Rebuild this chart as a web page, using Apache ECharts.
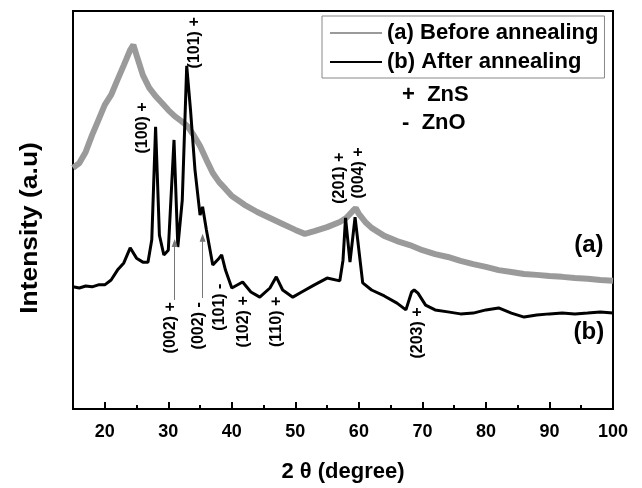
<!DOCTYPE html>
<html>
<head>
<meta charset="utf-8">
<script src="https://cdn.jsdelivr.net/npm/echarts@6/dist/echarts.min.js"></script>
<style>
  html, body { margin: 0; padding: 0; background: #fff; }
  #xrd { width: 642px; height: 488px; }
</style>
</head>
<body>
<div id="xrd"></div>
<script>
// XRD 图谱：退火前(a) / 退火后(b)
const seriesNames = ['(a) Before annealing', '(b) After annealing'];

// (a) 退火前，灰色
const beforeX = [15, 16, 17, 18, 19, 20, 21, 22, 23, 24, 24.5, 25, 26, 27, 28, 29, 30, 31, 32, 33, 34, 35, 36, 37, 38, 39, 40, 42, 44, 46, 48, 50, 51.5, 53, 55, 57, 58, 59, 59.5, 60, 61, 62, 64, 66, 68, 70, 72, 74, 76, 78, 80, 82, 84, 86, 88, 90, 92, 94, 96, 98, 100];
const beforeY = [60.6, 61.8, 64.6, 68.8, 72.6, 76.4, 78.9, 82.7, 86.4, 90.2, 91.5, 88.9, 83.9, 80.7, 78.6, 76.9, 75.1, 73.6, 72.4, 71.1, 68.8, 66.1, 62.6, 59.3, 57.0, 55.3, 53.5, 51.3, 49.5, 48.0, 46.5, 45.0, 44.0, 44.7, 45.7, 47.0, 48.0, 49.7, 50.5, 49.0, 47.0, 45.5, 43.5, 42.2, 41.2, 39.9, 38.9, 38.2, 37.2, 36.4, 35.7, 34.9, 34.4, 33.9, 33.7, 33.4, 33.2, 32.9, 32.7, 32.4, 32.2];

// (b) 退火后，黑色
const afterX = [15, 16, 17, 18, 19, 20, 21, 22, 23, 24, 25, 26, 26.8, 27.4, 28, 28.6, 29.3, 30, 30.9, 31.5, 32.2, 32.9, 33.5, 34.2, 35, 35.4, 36, 37, 38, 38.4, 39, 40, 41.7, 43, 44.4, 46, 47, 48, 49.6, 51, 53, 55, 57, 57.5, 57.9, 58.6, 59.4, 60, 60.6, 62, 64, 66, 67.4, 68.3, 68.7, 69.3, 70.5, 72, 74, 76, 78, 80, 82, 84, 86, 88, 90, 92, 94, 96, 98, 100];
const afterY = [30.7, 30.4, 30.9, 30.7, 31.2, 31.2, 32.4, 34.9, 36.7, 40.5, 37.9, 36.9, 36.9, 42.5, 70.9, 43.7, 38.7, 39.9, 67.6, 40.7, 52.5, 86.2, 75.1, 60.1, 48.7, 50.8, 45.0, 36.2, 37.9, 38.7, 34.9, 30.4, 31.9, 29.4, 28.1, 30.4, 33.2, 29.9, 28.1, 29.4, 31.2, 32.9, 32.2, 37.4, 48.0, 36.9, 48.2, 39.9, 31.7, 29.9, 28.4, 26.6, 24.9, 29.4, 29.9, 29.1, 26.1, 24.9, 24.4, 23.9, 24.1, 24.9, 25.4, 24.1, 23.1, 23.6, 23.9, 24.1, 23.9, 24.1, 24.4, 24.1];

// 刻度
const majorTicks = [20, 30, 40, 50, 60, 70, 80, 90, 100];
const minorTicks = [25, 35, 45, 55, 65, 75, 85, 95];

// 峰标注 [文字, 2θ, 强度]，竖排
const peakLabels = [
  ['(100) +', 25.9, 70.6],
  ['(101) +', 34.2, 92.0],
  ['(201) +', 57.0, 58.0],
  ['(004) +', 59.9, 59.3],
  ['(002) +', 30.3, 20.4],
  ['(002) -', 34.7, 20.9],
  ['(101) -', 38.1, 25.6],
  ['(102) +', 41.9, 21.9],
  ['(110) +', 47.1, 21.9],
  ['(203) +', 69.2, 19.1]
];
// 箭头 [2θ, 起点, 终点]
const arrows = [[31.0, 27.4, 41.7], [35.4, 27.9, 43.0]];
// 曲线标记 & 相标记
const curveTags = [['(a)', 96.2, 41.2], ['(b)', 96.2, 19.3]];
const phaseTags = [['+  ZnS', 66.8, 78.9], ['-  ZnO', 66.8, 71.9]];

const FONT = '"Liberation Sans", Arial, sans-serif';

function pairs (xs, ys) {
  return xs.map((x, i) => [x, ys[i]]);
}

const myChart = echarts.init(document.getElementById('xrd'));

const option = {
  backgroundColor: '#fff',
  animation: false,
  grid: {
    left: 73,
    right: 29,
    top: 11,
    bottom: 79,
    show: true,
    borderColor: '#000',
    borderWidth: 2
  },
  legend: {
    orient: 'vertical',
    left: 322,
    top: 16,
    icon: 'rect',
    itemWidth: 52,
    itemHeight: 2,
    itemGap: 7,
    padding: [6, 6, 5, 8],
    borderColor: '#888',
    borderWidth: 1,
    textStyle: { fontFamily: FONT, fontWeight: 'bold', fontSize: 22, color: '#000' },
    data: seriesNames
  },
  xAxis: [
    {
      type: 'value',
      min: 15,
      max: 100,
      name: '2 θ (degree)',
      nameLocation: 'middle',
      nameGap: 52,
      nameTextStyle: { fontFamily: FONT, fontWeight: 'bold', fontSize: 22, color: '#000' },
      axisLine: { show: true, lineStyle: { color: '#000', width: 2 } },
      axisTick: { show: true, inside: true, length: 7, customValues: majorTicks, lineStyle: { color: '#000', width: 2 } },
      axisLabel: { show: true, customValues: majorTicks, margin: 14, fontFamily: FONT, fontWeight: 'bold', fontSize: 18, color: '#000' },
      splitLine: { show: false }
    },
    {
      // 次刻度
      type: 'value',
      min: 15,
      max: 100,
      position: 'bottom',
      axisLine: { show: false },
      axisTick: { show: true, inside: true, length: 4, customValues: minorTicks, lineStyle: { color: '#000', width: 2 } },
      axisLabel: { show: false },
      splitLine: { show: false }
    }
  ],
  yAxis: {
    type: 'value',
    min: 0,
    max: 100,
    axisLine: { show: true, lineStyle: { color: '#000', width: 2 } },
    axisTick: { show: false },
    axisLabel: { show: false },
    splitLine: { show: false }
  },
  series: [
    {
      name: seriesNames[0],
      type: 'line',
      symbol: 'none',
      color: '#9a9a9a',
      lineStyle: { color: '#9a9a9a', width: 6 },
      data: pairs(beforeX, beforeY),
      z: 2
    },
    {
      name: seriesNames[1],
      type: 'line',
      symbol: 'none',
      color: '#000',
      lineStyle: { color: '#000', width: 3 },
      data: pairs(afterX, afterY),
      z: 3,
      markLine: {
        silent: true,
        symbol: ['none', 'triangle'],
        symbolSize: [6, 8],
        label: { show: false },
        lineStyle: { color: '#777', width: 1, type: 'solid' },
        data: arrows.map(a => [{ coord: [a[0], a[1]] }, { coord: [a[0], a[2]] }])
      }
    }
  ]
};
myChart.setOption(option);

// 文字标注，按数据坐标换算成像素
const toPx = (x, y) => myChart.convertToPixel({ xAxisIndex: 0, yAxisIndex: 0 }, [x, y]);
const graphics = [];
peakLabels.forEach(p => {
  const pt = toPx(p[1], p[2]);
  graphics.push({
    type: 'text', x: pt[0], y: pt[1], rotation: Math.PI / 2, z: 10,
    style: { text: p[0], font: 'bold 16px ' + FONT, fill: '#000', align: 'center', verticalAlign: 'middle' }
  });
});
curveTags.forEach(p => {
  const pt = toPx(p[1], p[2]);
  graphics.push({
    type: 'text', x: pt[0], y: pt[1], z: 10,
    style: { text: p[0], font: 'bold 24px ' + FONT, fill: '#000', align: 'center', verticalAlign: 'middle' }
  });
});
phaseTags.forEach(p => {
  const pt = toPx(p[1], p[2]);
  graphics.push({
    type: 'text', x: pt[0], y: pt[1], z: 10,
    style: { text: p[0], font: 'bold 22px ' + FONT, fill: '#000', align: 'left', verticalAlign: 'middle' }
  });
});
// 纵轴标题
graphics.push({
  type: 'text', x: 30, y: 228, rotation: Math.PI / 2, scaleX: 1.1,
  style: { text: 'Intensity (a.u)', font: 'bold 24px ' + FONT, fill: '#000', align: 'center', verticalAlign: 'middle' }
});
myChart.setOption({ graphic: graphics });

window.addEventListener('resize', function () {
  myChart.resize();
});
</script>
</body>
</html>
